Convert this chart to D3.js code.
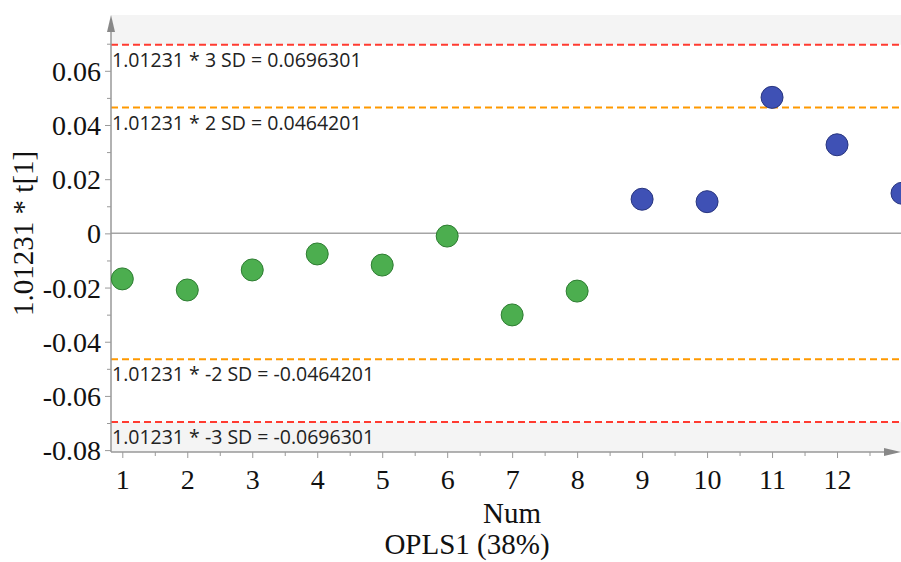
<!DOCTYPE html>
<html lang="en">
<head>
    <meta charset="UTF-8">
    <script src="https://d3js.org/d3.v7.min.js"></script>
    <title>OPLS1 score plot</title>
    <style>
        body { margin: 0; background: #fff; }
        svg { display: block; }
    </style>
</head>
<body>
<svg width="901" height="562"></svg>
<script>
    // sample numbers and scores
    const nums = [1, 2, 3, 4, 5, 6, 7, 8, 9, 10, 11, 12, 13];
    const scores = [-0.0168, -0.0209, -0.0135, -0.0076, -0.0117, -0.0010, -0.0301, -0.0213,
                    0.0126, 0.0117, 0.0502, 0.0327, 0.0148];
    const groups = ["A", "A", "A", "A", "A", "A", "A", "A", "B", "B", "B", "B", "B"];

    // control limits
    const limits = [0.0696301, 0.0464201, -0.0464201, -0.0696301];
    const limitLabels = ["1.01231 * 3 SD = 0.0696301", "1.01231 * 2 SD = 0.0464201",
                         "1.01231 * -2 SD = -0.0464201", "1.01231 * -3 SD = -0.0696301"];
    const limitColors = ["#ff3b30", "#ff9900", "#ff9900", "#ff3b30"];

    const yTicks = [0.06, 0.04, 0.02, 0, -0.02, -0.04, -0.06, -0.08];
    const yMinor = [0.07, 0.05, 0.03, 0.01, -0.01, -0.03, -0.05, -0.07];
    const xTicks = [1, 2, 3, 4, 5, 6, 7, 8, 9, 10, 11, 12];
    const xMinor = [1.5, 2.5, 3.5, 4.5, 5.5, 6.5, 7.5, 8.5, 9.5, 10.5, 11.5, 12.5];

    const svg = d3.select("svg");
    const pL = 111, pR = 902, pT = 15, pB = 452;

    const x = d3.scaleLinear().domain([0.826, 13.0]).range([pL, pR]);
    const y = d3.scaleLinear().domain([-0.0807, 0.0806]).range([pB, pT]);

    const axisColor = "#999";
    const serif = "'Liberation Serif', 'Times New Roman', serif";

    // gray bands outside +-3 SD
    svg.append("rect").attr("x", pL).attr("y", pT)
        .attr("width", 901 - pL).attr("height", y(limits[0]) - pT)
        .attr("fill", "#f4f4f4");
    svg.append("rect").attr("x", pL).attr("y", y(limits[3]))
        .attr("width", 901 - pL).attr("height", pB - y(limits[3]))
        .attr("fill", "#f4f4f4");

    // zero line
    svg.append("line")
        .attr("x1", pL).attr("x2", 901)
        .attr("y1", y(0)).attr("y2", y(0))
        .attr("stroke", "#a5a5a5").attr("stroke-width", 1.5);

    // limit lines + labels
    limits.forEach((v, i) => {
        svg.append("line")
            .attr("x1", pL).attr("x2", 901)
            .attr("y1", y(v)).attr("y2", y(v))
            .attr("stroke", limitColors[i]).attr("stroke-width", 2)
            .attr("stroke-dasharray", "7,4");
        svg.append("text")
            .attr("x", pL + 1).attr("y", y(v) + 22)
            .attr("font-family", "'Open Sans', sans-serif")
            .attr("font-size", 19.5).attr("fill", "#222")
            .text(limitLabels[i]);
    });

    // y axis
    const yAxis = d3.axisLeft(y).tickValues(yTicks).tickSize(6).tickPadding(4)
        .tickFormat(d => d === 0 ? "0" : d3.format(".2f")(d).replace("−", "-"));
    const gy = svg.append("g").attr("transform", `translate(${pL},0)`).call(yAxis);
    gy.select(".domain").remove();
    gy.selectAll("line").attr("stroke", axisColor);
    gy.selectAll("text").attr("font-family", serif).attr("font-size", 28).attr("fill", "#111")
        .attr("dy", "0.34em");
    const gyMinor = svg.append("g").attr("transform", `translate(${pL},0)`)
        .call(d3.axisLeft(y).tickValues(yMinor).tickSize(4).tickFormat(""));
    gyMinor.select(".domain").remove();
    gyMinor.selectAll("line").attr("stroke", axisColor);

    svg.append("line").attr("x1", pL).attr("x2", pL)
        .attr("y1", pB).attr("y2", pT + 10)
        .attr("stroke", axisColor).attr("stroke-width", 1.5);
    svg.append("path")
        .attr("d", `M${pL - 4},${pT + 17}L${pL},${pT}L${pL + 4},${pT + 17}Z`)
        .attr("fill", "#888");

    // x axis
    const xAxis = d3.axisBottom(x).tickValues(xTicks).tickSize(6).tickPadding(11);
    const gx = svg.append("g").attr("transform", `translate(0,${pB})`).call(xAxis);
    gx.select(".domain").remove();
    gx.selectAll("line").attr("stroke", axisColor);
    gx.selectAll("text").attr("font-family", serif).attr("font-size", 28).attr("fill", "#111");
    const gxMinor = svg.append("g").attr("transform", `translate(0,${pB})`)
        .call(d3.axisBottom(x).tickValues(xMinor).tickSize(4).tickFormat(""));
    gxMinor.select(".domain").remove();
    gxMinor.selectAll("line").attr("stroke", axisColor);

    svg.append("line").attr("x1", pL).attr("x2", 892)
        .attr("y1", pB).attr("y2", pB)
        .attr("stroke", axisColor).attr("stroke-width", 1.5);
    svg.append("path")
        .attr("d", `M884,${pB - 4}L901,${pB}L884,${pB + 4}Z`)
        .attr("fill", "#888");

    // axis titles
    svg.append("text")
        .attr("transform", `translate(33,${y(0)}) rotate(-90)`)
        .attr("text-anchor", "middle")
        .attr("font-family", serif).attr("font-size", 29).attr("fill", "#111")
        .text("1.01231 * t[1]");
    svg.append("text").attr("x", 512).attr("y", 523)
        .attr("text-anchor", "middle")
        .attr("font-family", serif).attr("font-size", 29).attr("fill", "#111")
        .text("Num");
    svg.append("text").attr("x", 467).attr("y", 554)
        .attr("text-anchor", "middle")
        .attr("font-family", serif).attr("font-size", 29).attr("fill", "#111")
        .text("OPLS1 (38%)");

    // points
    const fill = { A: "#4cae4f", B: "#3f51b5" };
    const edge = { A: "#2e7d32", B: "#29367f" };
    svg.append("g").selectAll("circle")
        .data(nums.map((n, i) => ({ n, v: scores[i], g: groups[i] })))
        .join("circle")
        .attr("cx", d => x(d.n))
        .attr("cy", d => y(d.v))
        .attr("r", 11)
        .attr("fill", d => fill[d.g])
        .attr("stroke", d => edge[d.g])
        .attr("stroke-width", 1);
</script>
</body>
</html>
